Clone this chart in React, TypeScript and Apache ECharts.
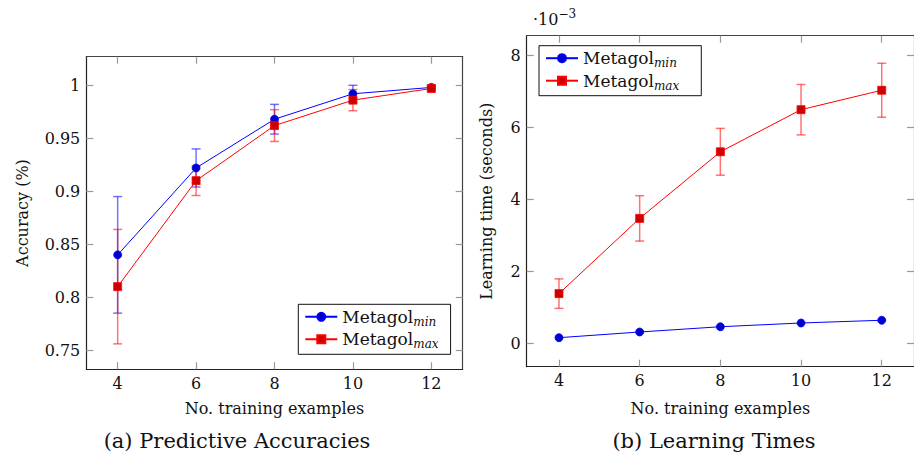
import React, { useEffect, useRef } from "react";
import * as echarts from "echarts";

const examples = [4, 6, 8, 10, 12];

// (a) Predictive accuracies
const accMin = [0.84, 0.922, 0.968, 0.992, 0.998];
const accMinErr = [0.055, 0.018, 0.014, 0.008, 0.002];
const accMax = [0.81, 0.91, 0.962, 0.986, 0.997];
const accMaxErr = [0.054, 0.014, 0.015, 0.01, 0.002];

// (b) Learning times (x 10^-3 seconds)
const timeMin = [0.156, 0.314, 0.46, 0.564, 0.64];
const timeMax = [1.38, 3.47, 5.32, 6.49, 7.03];
const timeMaxErr = [0.41, 0.63, 0.65, 0.7, 0.75];

const accTicks = [0.75, 0.8, 0.85, 0.9, 0.95, 1];
const timeTicks = [0, 2, 4, 6, 8];

const FONT = "DejaVu Serif";
const BLUE = "#0000ff";
const RED = "#ff0000";

function errData(xs: number[], ys: number[], es: number[]) {
  return xs.map((x, i) => [x, ys[i] - es[i], ys[i] + es[i]]);
}

function errSeries(name: string, data: number[][], color: string, xi: number, yi: number) {
  return {
    type: "custom",
    name,
    xAxisIndex: xi,
    yAxisIndex: yi,
    z: 2,
    silent: true,
    encode: { x: 0, y: [1, 2] },
    data,
    renderItem: (params: any, api: any) => {
      const x = api.value(0);
      const lo = api.value(1);
      const hi = api.value(2);
      const p1 = api.coord([x, hi]);
      const p2 = api.coord([x, lo]);
      const hw = 4.5;
      const style = { stroke: color, lineWidth: 1.5, opacity: 0.55 };
      return {
        type: "group",
        children: [
          { type: "line", shape: { x1: p1[0], y1: p1[1], x2: p2[0], y2: p2[1] }, style },
          { type: "line", shape: { x1: p1[0] - hw, y1: p1[1], x2: p1[0] + hw, y2: p1[1] }, style },
          { type: "line", shape: { x1: p2[0] - hw, y1: p2[1], x2: p2[0] + hw, y2: p2[1] }, style },
        ],
      };
    },
  };
}

function lineSeries(name: string, ys: number[], color: string, fill: string, symbol: string, size: number, xi: number, yi: number) {
  return {
    type: "line",
    name,
    xAxisIndex: xi,
    yAxisIndex: yi,
    z: 3,
    data: examples.map((x, i) => [x, ys[i]]),
    symbol,
    symbolSize: size,
    lineStyle: { color, width: 1 },
    itemStyle: { color: fill, borderColor: color, borderWidth: 0.8 },
  };
}

const tickStyle = { show: true, inside: true, length: 7, lineStyle: { color: "#999", width: 1.2 } };
const axisLine = { show: true, onZero: false, lineStyle: { color: "#222", width: 1.2 } };
const labelStyle = { fontFamily: FONT, fontSize: 16, color: "#111" };
const nameStyle = { fontFamily: FONT, fontSize: 16, color: "#111" };

function xAxes(grid: number, nameGap: number) {
  return [
    {
      type: "value",
      gridIndex: grid,
      min: 3.2,
      max: 12.8,
      position: "bottom",
      axisLine,
      axisTick: { ...tickStyle, customValues: examples },
      axisLabel: { ...labelStyle, margin: 6, customValues: examples },
      splitLine: { show: false },
      name: "No. training examples",
      nameLocation: "middle",
      nameGap,
      nameTextStyle: nameStyle,
    },
    {
      type: "value",
      gridIndex: grid,
      min: 3.2,
      max: 12.8,
      position: "top",
      axisLine: { ...axisLine, lineStyle: { color: "#444", width: 1.2 } },
      axisTick: { ...tickStyle, customValues: examples },
      axisLabel: { show: false },
      splitLine: { show: false },
    },
  ];
}

function yAxes(grid: number, min: number, max: number, ticks: number[], name: string, nameGap: number) {
  return [
    {
      type: "value",
      gridIndex: grid,
      min,
      max,
      position: "left",
      axisLine,
      axisTick: { ...tickStyle, customValues: ticks },
      axisLabel: { ...labelStyle, margin: 6, customValues: ticks },
      splitLine: { show: false },
      name,
      nameLocation: "middle",
      nameGap,
      nameTextStyle: nameStyle,
    },
    {
      type: "value",
      gridIndex: grid,
      min,
      max,
      position: "right",
      axisLine: { ...axisLine, lineStyle: { color: "#444", width: 1.2 } },
      axisTick: { ...tickStyle, customValues: ticks },
      axisLabel: { show: false },
      splitLine: { show: false },
    },
  ];
}

const legendRich = {
  base: { fontFamily: FONT, fontSize: 17, lineHeight: 22, color: "#111" },
  sub: { fontFamily: FONT, fontSize: 12, fontStyle: "italic", lineHeight: 13, verticalAlign: "bottom", color: "#111" },
};

function legend(left: number, top: number, padRight: number) {
  return {
    orient: "vertical",
    left,
    top,
    data: ["Metagol min", "Metagol max"],
    itemWidth: 32,
    itemHeight: 10,
    itemGap: 3,
    itemTextGap: 7,
    padding: [4, padRight, 4, 6],
    borderColor: "#111",
    borderWidth: 1,
    backgroundColor: "#fff",
    selectedMode: false,
    formatter: (n: string) => "{base|Metagol}{sub|" + n.split(" ")[1] + "}",
    textStyle: { rich: legendRich },
  };
}

export default function App() {
  const ref = useRef<HTMLDivElement>(null);
  useEffect(() => {
    if (!ref.current) return;
    const chart = echarts.init(ref.current, null, { renderer: "svg" });
    chart.setOption({
      animation: false,
      grid: [
        { left: 86.3, top: 56.7, width: 376.4, height: 312.6, show: false },
        { left: 526.7, top: 35.7, width: 398.9, height: 331, show: false },
      ],
      xAxis: [...xAxes(0, 31), ...xAxes(1, 34)],
      yAxis: [
        ...yAxes(0, 0.732, 1.027, accTicks, "Accuracy (%)", 56),
        ...yAxes(1, -0.65, 8.545, timeTicks, "Learning time (seconds)", 32),
      ],
      legend: [legend(298.3, 304.3, 12), legend(539, 45.7, 22)],
      graphic: [
        {
          type: "text",
          x: 237,
          y: 441,
          style: { text: "(a) Predictive Accuracies", fontFamily: FONT, fontSize: 21, fill: "#111", textAlign: "center", textVerticalAlign: "middle" },
        },
        {
          type: "text",
          x: 714,
          y: 441,
          style: { text: "(b) Learning Times", fontFamily: FONT, fontSize: 21, fill: "#111", textAlign: "center", textVerticalAlign: "middle" },
        },
        {
          type: "text",
          x: 533,
          y: 8,
          style: {
            text: "{b|·10}{s|−3}",
            rich: {
              b: { fontFamily: FONT, fontSize: 16, lineHeight: 22, fill: "#111" },
              s: { fontFamily: FONT, fontSize: 12, lineHeight: 12, verticalAlign: "top", fill: "#111" },
            },
          },
        },
      ],
      series: [
        errSeries("err a min", errData(examples, accMin, accMinErr), BLUE, 0, 0),
        errSeries("err a max", errData(examples, accMax, accMaxErr), RED, 0, 0),
        lineSeries("Metagol min", accMin, BLUE, "#0000cc", "circle", 8, 0, 0),
        lineSeries("Metagol max", accMax, RED, "#cc0000", "rect", 8, 0, 0),
        errSeries("err b max", errData(examples, timeMax, timeMaxErr), RED, 2, 2),
        lineSeries("Metagol min", timeMin, BLUE, "#0000cc", "circle", 8, 2, 2),
        lineSeries("Metagol max", timeMax, RED, "#cc0000", "rect", 8, 2, 2),
      ],
    });
    return () => chart.dispose();
  }, []);
  return <div ref={ref} style={{ position: "absolute", left: 0, top: 0, width: 914, height: 452 }} />;
}
